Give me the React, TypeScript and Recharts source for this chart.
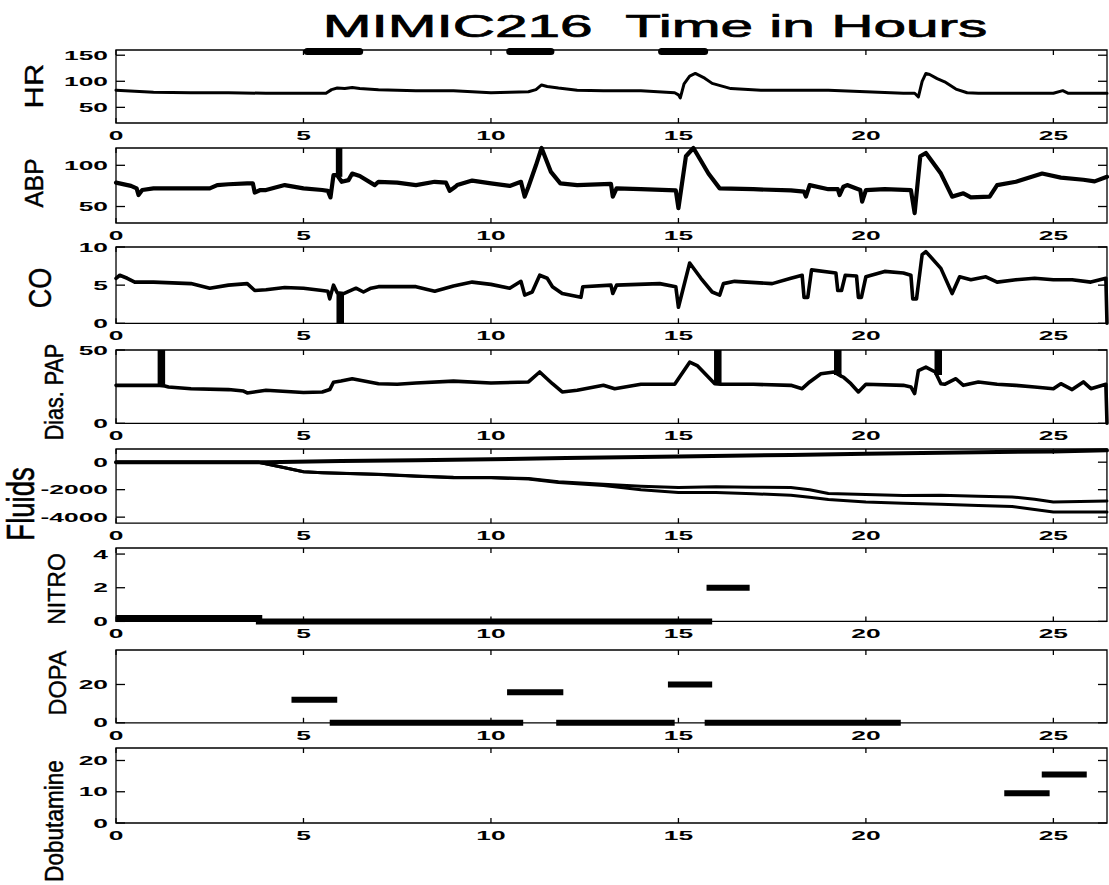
import { LineChart, Line, XAxis, YAxis, ReferenceArea } from "recharts";

const W = 1109;
const H = 885;
const PLOT_L = 116;
const PLOT_R = 1107;
const X_MAX = 26.43;
const X_TICKS = [0, 5, 10, 15, 20, 25];
const FONT = "'Liberation Sans', Arial, Helvetica, sans-serif";

type Pt = [number, number];

// HR (beats/min)
const hr: Pt[] = [
  [0, 83], [0.5, 81], [1, 79], [2, 78], [3, 78], [4, 77], [5, 77], [5.6, 77], [5.75, 84], [5.9, 87],
  [6.1, 86], [6.3, 88], [6.5, 86], [7, 84], [7.5, 83], [8, 82], [9, 82], [9.5, 80], [10, 78], [10.5, 79],
  [11, 80], [11.2, 84], [11.35, 93], [11.5, 90], [11.8, 87], [12.3, 83], [13, 82], [14, 82], [14.9, 78],
  [15.0, 74], [15.05, 68], [15.15, 95], [15.3, 110], [15.45, 115], [15.7, 106], [15.9, 96], [16.4, 86],
  [17.2, 83], [18, 83], [19, 83], [20, 80], [21, 77], [21.3, 77], [21.4, 70], [21.5, 100], [21.6, 115],
  [21.7, 113], [21.9, 105], [22.1, 99], [22.4, 85], [22.7, 78], [23, 77], [24, 77], [25, 77], [25.25, 82],
  [25.4, 77], [26, 77], [26.43, 77],
];
// HR artefact bursts near the top of the panel: [start, end, value]
const hrArtefacts = [
  [5.1, 6.5, 157],
  [10.5, 11.6, 157],
  [14.55, 15.7, 157],
];

const abp: Pt[] = [
  [0, 79], [0.4, 75], [0.55, 72], [0.6, 64], [0.7, 70], [1, 72], [2, 72], [2.5, 72], [2.7, 76], [3, 77],
  [3.5, 78], [3.65, 78], [3.7, 67], [3.85, 70], [4, 70], [4.5, 76], [5, 72], [5.5, 70], [5.65, 69],
  [5.72, 61], [5.8, 88], [5.9, 88], [6.02, 80], [6.2, 82], [6.3, 90], [6.5, 87], [6.9, 76], [7, 80],
  [7.5, 79], [8, 76], [8.5, 80], [8.8, 79], [8.9, 69], [9.05, 74], [9.1, 76], [9.5, 81.5], [10, 78],
  [10.5, 75], [10.8, 80], [10.9, 62], [11.0, 74], [11.2, 100], [11.35, 121], [11.6, 92], [11.85, 78],
  [12.3, 76], [13.2, 77.5], [13.25, 62], [13.35, 72], [14, 71], [14.93, 69.5], [15.0, 48], [15.2, 111],
  [15.4, 121], [15.8, 90], [16.1, 72], [17, 71], [18, 69.5], [18.35, 68], [18.4, 62], [18.5, 76], [19, 71],
  [19.25, 71], [19.3, 64], [19.4, 74], [19.5, 76], [19.85, 70], [19.9, 56], [20, 70], [20.5, 71],
  [21.2, 70], [21.3, 42], [21.45, 111], [21.6, 115], [22, 90], [22.3, 62], [22.6, 66], [22.8, 61],
  [23.3, 62], [23.5, 76], [24, 80], [24.7, 90], [25.2, 85], [25.8, 82.5], [26.1, 80.5], [26.43, 86],
];
// vertical artefacts: [hour, from, to]
const abpSpikes = [[5.95, 86, 121]];

const co: Pt[] = [
  [0, 5.9], [0.1, 6.3], [0.3, 5.9], [0.5, 5.4], [1, 5.4], [2, 5.2], [2.5, 4.6], [3, 5], [3.5, 5.2],
  [3.7, 4.3], [4, 4.4], [4.5, 4.7], [5, 4.6], [5.5, 4.3], [5.65, 4.2], [5.7, 3.2], [5.8, 5], [5.9, 4],
  [6.07, 3.9], [6.4, 4.6], [6.6, 4.1], [6.8, 4.6], [7, 4.8], [8, 4.8], [8.5, 4.2], [9, 4.9], [9.5, 5.4],
  [10, 5.1], [10.5, 4.6], [10.8, 5.5], [10.9, 3.7], [11.1, 4.1], [11.3, 6.3], [11.5, 5.9], [11.64, 4.8],
  [11.9, 3.9], [12.4, 3.4], [12.45, 4.8], [13.2, 5], [13.25, 3.9], [13.35, 5], [14.5, 5.2], [14.93, 4.8],
  [15.0, 2.1], [15.3, 7.9], [15.6, 5.9], [15.9, 4.1], [16.1, 3.7], [16.2, 5.2], [16.5, 5.5], [17.5, 5.2],
  [18, 5.9], [18.3, 6.3], [18.35, 3.4], [18.45, 3.4], [18.55, 7], [19.2, 6.6], [19.25, 4.3], [19.35, 4.3],
  [19.45, 6.3], [19.75, 6.2], [19.8, 3.4], [19.88, 3.4], [20, 6.1], [20.5, 6.8], [21, 6.6], [21.2, 6.3],
  [21.25, 3.2], [21.35, 3.2], [21.5, 9], [21.6, 9.4], [22, 7.2], [22.3, 3.9], [22.5, 6.1], [22.8, 5.7],
  [23.2, 6.1], [23.5, 5.4], [24, 5.7], [24.5, 5.9], [25, 5.7], [25.5, 5.7], [26, 5.4], [26.4, 5.9],
  [26.43, 0],
];
const coSpikes = [[5.98, 4, 0]];

const pap: Pt[] = [
  [0, 25.9], [1.1, 25.9], [1.3, 25.5], [1.4, 24.8], [2, 23.6], [3, 23], [3.4, 22], [3.5, 20.7], [4, 22.5],
  [5, 21], [5.5, 21.4], [5.7, 23], [5.8, 28], [6, 28.8], [6.3, 30.4], [7, 27], [7.5, 26.6], [8, 27.5],
  [9, 28.8], [10, 27.5], [11, 28.2], [11.3, 35], [11.64, 27], [11.9, 21.4], [12.3, 22.5], [13, 25.9],
  [13.3, 23.6], [14, 26.6], [14.9, 26.6], [15.0, 30.4], [15.3, 41.7], [15.5, 39.4], [15.97, 27],
  [16.13, 26.6], [17, 26.6], [18, 25.9], [18.3, 23.6], [18.5, 28.2], [18.8, 33.8], [19.15, 35],
  [19.35, 32], [19.4, 31.5], [19.6, 27], [19.8, 21.4], [20, 26.6], [21, 25.9], [21.2, 24.8], [21.3, 20.3],
  [21.4, 36], [21.6, 38.3], [21.85, 35], [22.0, 27], [22.1, 26.6], [22.4, 30.4], [22.6, 25.9], [23, 28.2],
  [23.5, 26.6], [24, 25.9], [24.5, 24.8], [25, 23.6], [25.2, 27], [25.5, 23], [25.8, 28.2], [26, 23.6],
  [26.4, 26.6], [26.43, 0],
];
const papSpikes = [
  [1.21, 25.5, 50],
  [16.05, 27, 50],
  [19.25, 33, 50],
  [21.93, 33, 50],
];

const fluidsIn: Pt[] = [
  [0, 0], [4, 0], [6, 80], [8, 150], [10, 220], [12, 300], [15, 417], [18, 530], [20, 614], [23, 720],
  [25, 785], [26.43, 860],
];
const fluidsNet1: Pt[] = [
  [0, 0], [3.8, 0], [4.5, -400], [5, -690], [5.5, -760], [7, -880], [8, -1000], [9, -1100], [10, -1110],
  [11, -1180], [11.8, -1420], [13, -1600], [14, -1750], [15, -1840], [16, -1790], [17, -1820], [18, -1840],
  [18.5, -2000], [19, -2280], [20, -2360], [21, -2420], [22, -2400], [23, -2480], [23.9, -2530],
  [24.5, -2700], [25, -2900], [26.43, -2820],
];
const fluidsNet2: Pt[] = [
  [0, 0], [3.8, 0], [4.5, -400], [5, -700], [5.5, -770], [7, -900], [8, -1020], [9, -1130], [10, -1140],
  [11, -1220], [11.8, -1480], [13, -1700], [14, -2000], [15, -2200], [16, -2210], [17, -2300], [18, -2400],
  [18.5, -2550], [19, -2720], [20, -2900], [21, -2980], [22, -3070], [23, -3150], [23.9, -3220],
  [24.5, -3450], [25, -3630], [26.43, -3630],
];

// drug infusions: [start hour, end hour, dose]
const nitro = [
  [0, 3.9, 0.2],
  [3.73, 15.9, 0],
  [15.75, 16.9, 2],
];
const dopa = [
  [4.68, 5.9, 12],
  [5.7, 10.86, 0],
  [10.43, 11.93, 16],
  [11.74, 14.9, 0],
  [14.72, 15.9, 20],
  [15.7, 20.93, 0],
];
const dobutamine = [
  [23.69, 24.9, 9.5],
  [24.69, 25.89, 15.5],
];

type P = { t: number; v: number | null };
const pts = (a: Pt[]): P[] => a.map(([t, v]) => ({ t, v }));
const segs = (a: number[][]): P[] =>
  a.flatMap(([s, e, v]) => [{ t: s, v }, { t: e, v }, { t: e, v: null }]);
const spikes = (a: number[][]): P[] =>
  a.flatMap(([t, from, to]) => [{ t, v: from }, { t, v: to }, { t, v: null }]);

type Series = { data: P[]; w: number; cap?: "round" | "butt" };
type PanelCfg = { top: number; bottom: number; domain: [number, number]; ticks: number[]; series: Series[] };

const panels: PanelCfg[] = [
  { top: 49.5, bottom: 122.5, domain: [20, 160], ticks: [50, 100, 150],
    series: [{ data: pts(hr), w: 3 }, { data: segs(hrArtefacts), w: 7, cap: "round" }] },
  { top: 148.3, bottom: 223.3, domain: [30, 121], ticks: [50, 100],
    series: [{ data: pts(abp), w: 4.2 }, { data: spikes(abpSpikes), w: 6.5, cap: "butt" }] },
  { top: 247, bottom: 323.3, domain: [0, 10], ticks: [0, 5, 10],
    series: [{ data: pts(co), w: 3.6 }, { data: spikes(coSpikes), w: 7.5, cap: "butt" }] },
  { top: 350, bottom: 423.3, domain: [0, 50], ticks: [0, 50],
    series: [{ data: pts(pap), w: 3.6 }, { data: spikes(papSpikes), w: 7.5, cap: "butt" }] },
  { top: 448.5, bottom: 522.7, domain: [-4440, 960], ticks: [-4000, -2000, 0],
    series: [{ data: pts(fluidsIn), w: 4 }, { data: pts(fluidsNet1), w: 3 }, { data: pts(fluidsNet2), w: 3 }] },
  { top: 548.3, bottom: 621.7, domain: [0, 4.36], ticks: [0, 2, 4], series: [{ data: segs(nitro), w: 6, cap: "butt" }] },
  { top: 649.5, bottom: 722.3, domain: [0, 38], ticks: [0, 20], series: [{ data: segs(dopa), w: 6, cap: "butt" }] },
  { top: 748.3, bottom: 823.3, domain: [0, 24], ticks: [0, 10, 20], series: [{ data: segs(dobutamine), w: 6, cap: "butt" }] },
];

const yLabels = [
  { text: "HR", x: 34, y: 86, size: 31, sx: 0.85 },
  { text: "ABP", x: 34, y: 183, size: 24.5, sx: 1.05 },
  { text: "CO", x: 40, y: 288, size: 27, sx: 1.15 },
  { text: "Dias. PAP", x: 54, y: 392, size: 21.5, sx: 1.2 },
  { text: "Fluids", x: 21, y: 504, size: 27.5, sx: 1.4 },
  { text: "NITRO", x: 57, y: 589, size: 23, sx: 1.0 },
  { text: "DOPA", x: 58, y: 683, size: 23.5, sx: 1.0 },
  { text: "Dobutamine", x: 54, y: 821, size: 22.6, sx: 1.18 },
];

const PAD = 10;
const XH = 28;
const TICK_FS = 13.2;
const TICK_SX = 2.0;

function Panel({ cfg }: { cfg: PanelCfg }) {
  const h = cfg.bottom - cfg.top;
  const height = PAD + h + XH;
  const xTick = (props: any) => {
    const { x, payload } = props;
    return (
      <g>
        <line x1={x} x2={x} y1={PAD} y2={PAD + 5} stroke="#000" strokeWidth={1.3} />
        <line x1={x} x2={x} y1={PAD + h} y2={PAD + h - 5} stroke="#000" strokeWidth={1.3} />
        <text
          transform={`translate(${x},${PAD + h + 17}) scale(${TICK_SX},1)`}
          textAnchor="middle"
          fontFamily={FONT}
          fontWeight="bold"
          fontSize={TICK_FS}
          fill="#000"
        >
          {payload.value}
        </text>
      </g>
    );
  };
  const yTick = (props: any) => {
    const { y, payload } = props;
    return (
      <g>
        <line x1={PLOT_L} x2={PLOT_L + 9} y1={y} y2={y} stroke="#000" strokeWidth={1.3} />
        <line x1={PLOT_R} x2={PLOT_R - 9} y1={y} y2={y} stroke="#000" strokeWidth={1.3} />
        <text
          transform={`translate(108,${y + 4.7}) scale(${TICK_SX},1)`}
          textAnchor="end"
          fontFamily={FONT}
          fontWeight="bold"
          fontSize={TICK_FS}
          fill="#000"
        >
          {payload.value}
        </text>
      </g>
    );
  };
  return (
    <div style={{ position: "absolute", left: 0, top: cfg.top - PAD }}>
      <LineChart width={W} height={height} margin={{ top: PAD, right: W - PLOT_R, bottom: 0, left: 0 }}>
        <XAxis
          dataKey="t"
          type="number"
          domain={[0, X_MAX]}
          ticks={X_TICKS}
          interval={0}
          height={XH}
          axisLine={false}
          tickLine={false}
          tick={xTick}
        />
        <YAxis
          type="number"
          domain={cfg.domain}
          ticks={cfg.ticks}
          interval={0}
          width={PLOT_L}
          axisLine={false}
          tickLine={false}
          tick={yTick}
        />
        <ReferenceArea
          x1={0}
          x2={X_MAX}
          y1={cfg.domain[0]}
          y2={cfg.domain[1]}
          fill="none"
          fillOpacity={0}
          stroke="#000"
          strokeWidth={1.3}
          ifOverflow="visible"
        />
        {cfg.series.map((s, i) => (
          <Line
            key={i}
            data={s.data}
            dataKey="v"
            type="linear"
            stroke="#000"
            strokeWidth={s.w}
            strokeLinecap={s.cap ?? "round"}
            strokeLinejoin="round"
            dot={false}
            activeDot={false}
            connectNulls={false}
            isAnimationActive={false}
          />
        ))}
      </LineChart>
    </div>
  );
}

export default function App() {
  return (
    <div style={{ position: "absolute", left: 0, top: 0, width: W, height: H, background: "#fff", overflow: "hidden" }}>
      {panels.map((p, i) => (
        <Panel key={i} cfg={p} />
      ))}
      <svg width={W} height={H} style={{ position: "absolute", left: 0, top: 0, pointerEvents: "none" }}>
        <text
          transform="translate(655,37) scale(1.83,1)"
          textAnchor="middle"
          fontFamily={FONT}
          fontSize={32}
          fill="#000"
          stroke="#000"
          strokeWidth={0.7}
          xmlSpace="preserve"
        >
          {"MIMIC216\u00a0\u00a0Time in Hours"}
        </text>
        {yLabels.map((l) => (
          <text
            key={l.text}
            transform={`translate(${l.x},${l.y}) scale(${l.sx},1) rotate(-90)`}
            textAnchor="middle"
            dominantBaseline="central"
            fontFamily={FONT}
            fontSize={l.size}
            fill="#000"
            stroke="#000"
            strokeWidth={0.4}
          >
            {l.text}
          </text>
        ))}
      </svg>
    </div>
  );
}
